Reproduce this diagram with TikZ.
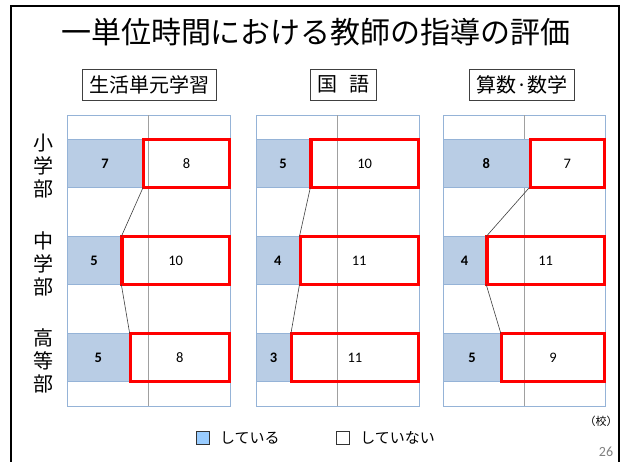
\documentclass[tikz,border=0pt]{standalone}
\usepackage{fontspec}
\setmainfont{Carlito}
\newfontfamily\jpfont{Noto Sans CJK JP}
\usetikzlibrary{positioning}
\definecolor{barblue}{RGB}{185,205,229}
\definecolor{barline}{RGB}{149,179,215}
\definecolor{legblue}{RGB}{153,204,255}
\definecolor{gridgray}{RGB}{160,160,160}
\definecolor{numgray}{RGB}{128,128,128}
\tikzset{
  panel/.style={draw=barline, line width=0.9pt},
  bluebar/.style={draw=barline, fill=barblue, line width=0.6pt, inner sep=0pt,
    outer sep=0pt, minimum height=48pt, font=\fontsize{14.5}{14.5}\selectfont\bfseries},
  redbox/.style={draw=red, line width=3.2pt, inner sep=0pt, outer sep=0pt,
    minimum height=48pt, font=\fontsize{14.5}{14.5}\selectfont},
  subject/.style={draw=black!75, line width=0.6pt, inner xsep=7pt, inner ysep=0pt,
    minimum height=31pt, font=\jpfont\fontsize{20}{20}\selectfont},
  level/.style={align=center, font=\jpfont\fontsize{20}{23}\selectfont},
  series/.style={draw=black!75, line width=0.6pt},
  keybox/.style={draw=black!80, line width=0.8pt, minimum size=13pt, inner sep=0pt},
  keytext/.style={font=\jpfont\fontsize{15}{15}\selectfont, inner sep=0pt}
}
\begin{document}
\begin{tikzpicture}[x=1pt,y=-1pt]
  \useasboundingbox (0,0) rectangle (627,461);
  \fill[white] (0,0) rectangle (627,461);
  \draw[line width=2.2pt] (11,470) -- (11,6) -- (619,6) -- (619,470);

  \node[font=\jpfont\fontsize{30}{30}\selectfont] (title) at (316,32)
    {一単位時間における教師の指導の評価};

  \node[subject] (subj1) at (149.5,84.5) {生活単元学習};
  \node[subject] (subj2) at (343.5,84.5) {国\hspace{0.6em}語};
  \node[subject] (subj3) at (521.7,84.5) {算数·数学};

  \node[level] (lv1) at (44,166) {小\\学\\部};
  \node[level] (lv2) at (44,264) {中\\学\\部};
  \node[level] (lv3) at (44,361) {高\\等\\部};

  % one panel per subject: left edge / width / number / values per row
  \foreach \px/\pw/\pn/\aa/\ab/\ba/\bb/\ca/\cb in
    {67/163/1/7/8/5/10/5/8, 256/163/2/5/10/4/11/3/11, 443/162/3/8/7/4/11/5/9} {
    \draw[panel] (\px,115) rectangle ++(\pw,291);
    \draw[gridgray, line width=0.6pt] (\px+\pw/2,115) -- ++(0,291);
    \foreach \row/\va/\vb/\ry in {1/\aa/\ab/163.5, 2/\ba/\bb/260.5, 3/\ca/\cb/357.5} {
      \pgfmathsetmacro\wa{\pw*\va/(\va+\vb)}
      \node[bluebar, minimum width=\wa, anchor=west] (p\pn a\row) at (\px,\ry) {\va};
      \node[redbox, minimum width=\pw-\wa-1.5, anchor=east] (p\pn b\row)
        at (\px+\pw-0.75,\ry) {\vb};
    }
    \draw[series] (p\pn a1.south east) -- (p\pn a2.north east);
    \draw[series] (p\pn a2.south east) -- (p\pn a3.north east);
  }

  \node[font=\jpfont\fontsize{11}{11}\selectfont] (unit) at (601,421) {（校）};

  \node[keybox, fill=legblue] (keyyes) at (203,438.3) {};
  \node[keytext, right=10pt of keyyes] (txtyes) {している};
  \node[keybox, fill=white] (keyno) at (343.3,438.3) {};
  \node[keytext, right=10pt of keyno] (txtno) {していない};

  \node[text=numgray, font=\fontsize{14}{14}\selectfont] (page) at (606,452) {26};
\end{tikzpicture}
\end{document}
